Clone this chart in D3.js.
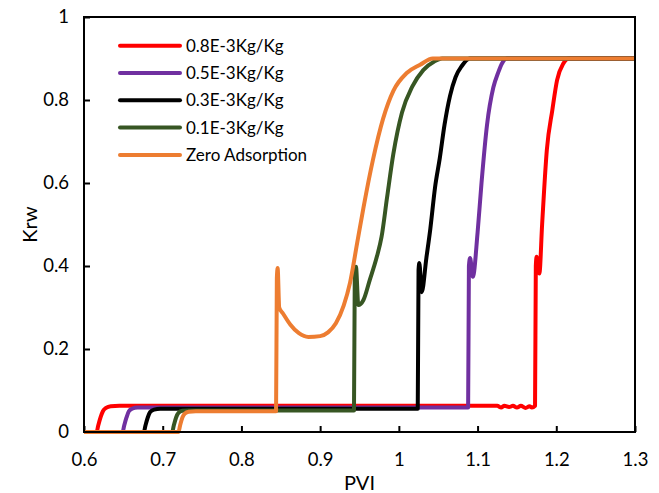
<!DOCTYPE html>
<html lang="en">
<head>
<meta charset="UTF-8">
<title>Krw vs PVI</title>
<script src="https://cdnjs.cloudflare.com/ajax/libs/d3/7.9.0/d3.min.js"></script>
<style>
    body { margin: 0; background: white; }
    svg { display: block; font-family: Lato, "Open Sans", sans-serif; }
</style>
</head>
<body>
<svg id="chart" width="659" height="493"></svg>
<script>
    // series: [PVI, Krw]
    const ads08 = [[0.6,0],[0.616,0],[0.618,0.015],[0.621,0.035],[0.624,0.05],[0.628,0.058],[0.634,0.062],[0.645,0.063],
        [1.125,0.063],[1.13,0.059],[1.134,0.063],[1.14,0.06],[1.145,0.063],[1.15,0.059],[1.155,0.063],[1.161,0.058],[1.166,0.062],[1.169,0.059],
        [1.173,0.063],[1.174,0.4],[1.175,0.422],[1.1785,0.382],[1.182,0.5],[1.188,0.68],[1.195,0.776],[1.201,0.848],[1.209,0.888],[1.216,0.9],[1.3,0.9]];
    const ads05 = [[0.6,0],[0.649,0],[0.651,0.015],[0.654,0.035],[0.657,0.05],[0.661,0.056],[0.668,0.059],
        [1.088,0.059],[1.089,0.4],[1.0905,0.419],[1.094,0.374],[1.1,0.48],[1.105,0.6],[1.112,0.74],[1.12,0.83],[1.126,0.865],[1.131,0.888],[1.137,0.9],[1.3,0.9]];
    const ads03 = [[0.6,0],[0.676,0],[0.678,0.015],[0.681,0.035],[0.684,0.048],[0.689,0.054],[0.697,0.056],
        [1.024,0.056],[1.025,0.39],[1.026,0.407],[1.029,0.337],[1.035,0.42],[1.04,0.49],[1.046,0.59],[1.052,0.66],[1.058,0.74],[1.065,0.81],[1.072,0.855],[1.08,0.882],[1.09,0.9],[1.3,0.9]];
    const ads01 = [[0.6,0],[0.712,0],[0.714,0.015],[0.717,0.035],[0.72,0.046],[0.725,0.051],[0.733,0.052],
        [0.943,0.052],[0.944,0.38],[0.9455,0.398],[0.9485,0.306],[0.955,0.318],[0.963,0.366],[0.972,0.422],[0.978,0.47],[0.985,0.565],[0.993,0.67],
        [1.004,0.77],[1.017,0.832],[1.031,0.872],[1.045,0.893],[1.055,0.9],[1.3,0.9]];
    const ads00 = [[0.6,0],[0.72,0],[0.722,0.015],[0.725,0.035],[0.728,0.044],[0.733,0.049],[0.742,0.05],
        [0.844,0.05],[0.845,0.37],[0.846,0.395],[0.848,0.3],[0.853,0.285],[0.862,0.259],[0.873,0.238],[0.885,0.229],[0.9,0.231],[0.91,0.24],
        [0.92,0.262],[0.93,0.305],[0.938,0.36],[0.947,0.455],[0.955,0.54],[0.967,0.655],[0.98,0.755],[0.993,0.822],[1.01,0.865],[1.027,0.885],[1.043,0.9],[1.3,0.9]];

    const seriesNames = ['0.8E-3Kg/Kg', '0.5E-3Kg/Kg', '0.3E-3Kg/Kg', '0.1E-3Kg/Kg', 'Zero Adsorption'];
    const seriesData = [ads08, ads05, ads03, ads01, ads00];
    const seriesColors = ['#ff0000', '#7030a0', '#000000', '#375623', '#ed7d31'];

    const xTicks = [0.6, 0.7, 0.8, 0.9, 1, 1.1, 1.2, 1.3];
    const yTicks = [0, 0.2, 0.4, 0.6, 0.8, 1];

    const svg = d3.select('#chart');
    const margin = {top: 17, right: 24, bottom: 61, left: 84};
    const W = 659, H = 493;

    const x = d3.scaleLinear().domain([0.6, 1.3]).range([margin.left, W - margin.right]);
    const y = d3.scaleLinear().domain([0, 1]).range([H - margin.bottom, margin.top]);

    // ticks point inward
    svg.append('g')
        .attr('transform', `translate(0,${y(0)})`)
        .call(d3.axisBottom(x).tickValues(xTicks).tickSize(-6).tickPadding(21).tickFormat(d3.format('')))
        .call(g => g.selectAll('line').attr('stroke-width', 2))
        .call(g => g.select('.domain').remove())
        .call(g => g.selectAll('text').attr('font-size', 18.5).attr('font-family', 'Lato, sans-serif').attr('fill', '#000'));

    svg.append('g')
        .attr('transform', `translate(${x(0.6)},0)`)
        .call(d3.axisLeft(y).tickValues(yTicks).tickSize(-6).tickPadding(15).tickFormat(d3.format('')))
        .call(g => g.selectAll('line').attr('stroke-width', 2))
        .call(g => g.select('.domain').remove())
        .call(g => g.selectAll('text').attr('font-size', 18.5).attr('font-family', 'Lato, sans-serif').attr('fill', '#000'));

    const line = d3.line().x(d => x(d[0])).y(d => y(d[1])).curve(d3.curveMonotoneX);

    seriesData.forEach((data, i) => {
        svg.append('path')
            .datum(data)
            .attr('d', line)
            .attr('fill', 'none')
            .attr('stroke', seriesColors[i])
            .attr('stroke-width', 4)
            .attr('stroke-linejoin', 'round');
    });

    // plot frame
    svg.append('rect')
        .attr('x', x(0.6)).attr('y', y(1))
        .attr('width', x(1.3) - x(0.6)).attr('height', y(0) - y(1))
        .attr('fill', 'none').attr('stroke', '#000').attr('stroke-width', 2);

    // legend
    const legend = svg.append('g');
    seriesNames.forEach((name, i) => {
        const ly = 45.7 + i * 27.3;
        legend.append('line')
            .attr('x1', 120).attr('x2', 180).attr('y1', ly).attr('y2', ly)
            .attr('stroke', seriesColors[i]).attr('stroke-width', 4).attr('stroke-linecap', 'round');
        legend.append('text')
            .attr('x', 186).attr('y', ly + 6)
            .attr('font-size', 17).text(name);
    });

    svg.append('text')
        .attr('x', (x(0.6) + x(1.3)) / 2).attr('y', 490)
        .attr('text-anchor', 'middle').attr('font-size', 20).text('PVI');

    svg.append('text')
        .attr('transform', `translate(37,${(y(0) + y(1)) / 2}) rotate(-90)`)
        .attr('text-anchor', 'middle').attr('font-size', 20).text('Krw');
</script>
</body>
</html>
